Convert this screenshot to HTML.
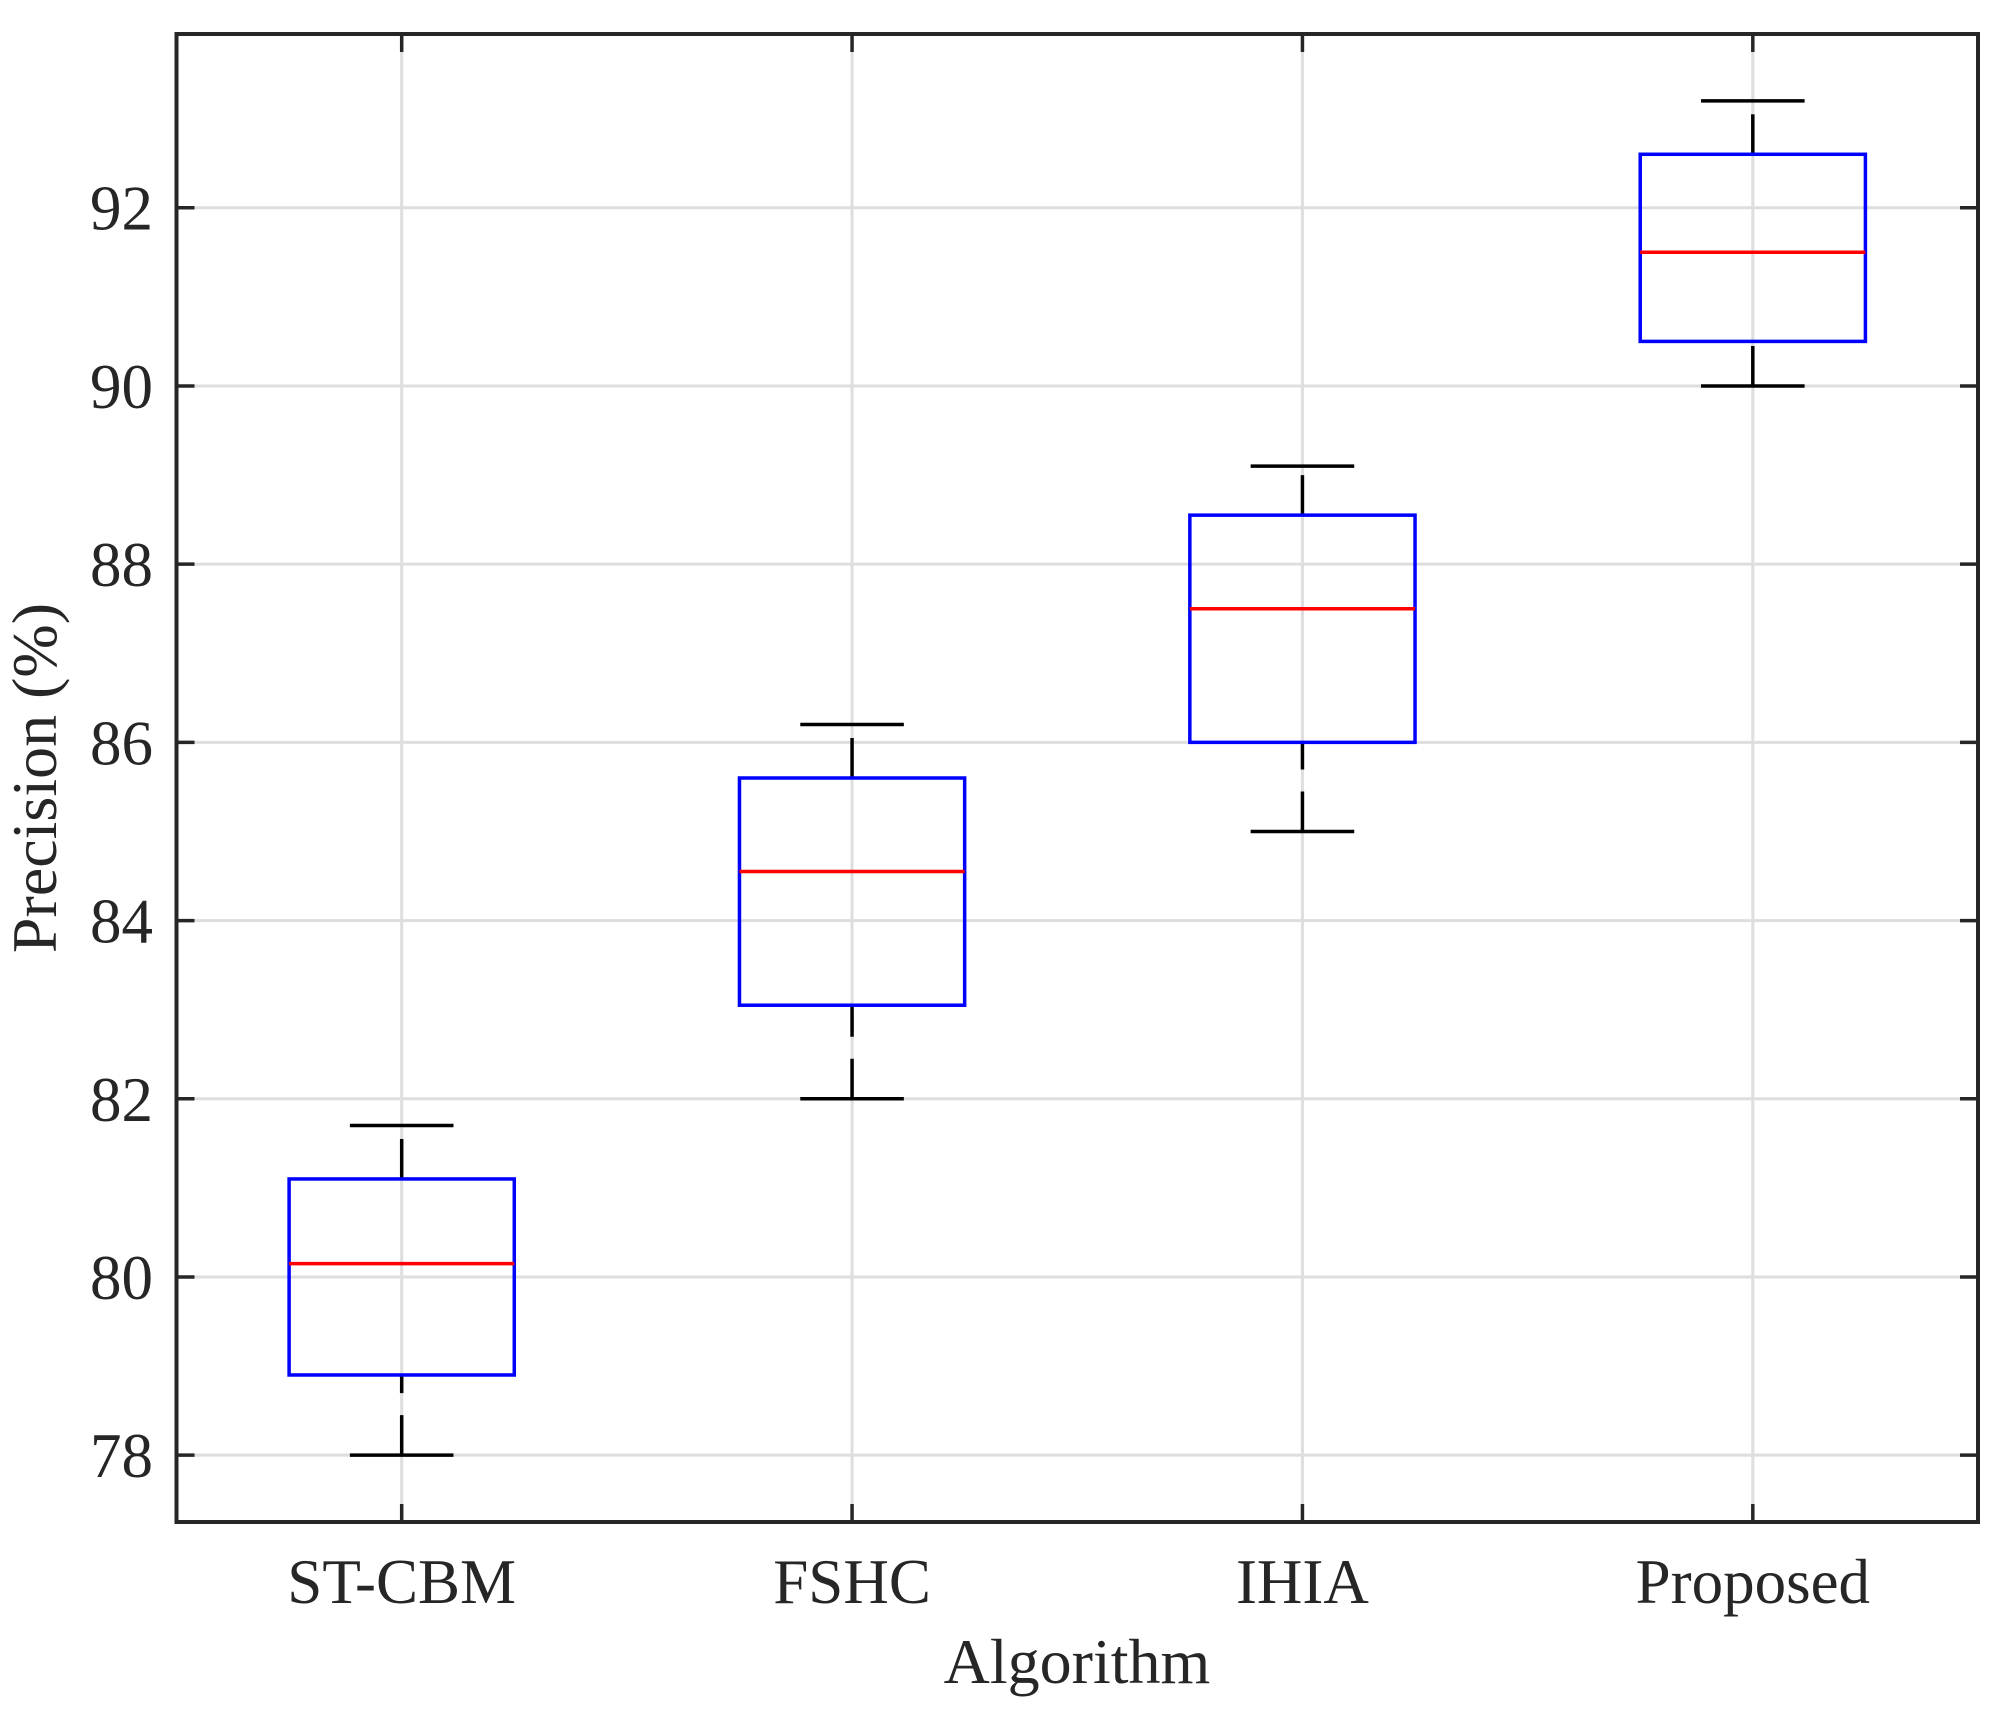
<!DOCTYPE html>
<html><head><meta charset="utf-8"><style>
html,body{margin:0;padding:0;background:#fff;}
svg{display:block;}
text{font-family:"Liberation Serif",serif;fill:#262626;}
</style></head><body>
<svg id="chart" width="2000" height="1710" viewBox="0 0 2000 1710" xmlns="http://www.w3.org/2000/svg">
<g id="grid"></g>
<g id="boxes"></g>
<g id="axes"></g>
<text transform="translate(56,778) rotate(-90)" text-anchor="middle" font-size="64">Precision (%)</text>
<text x="1077" y="1683" text-anchor="middle" font-size="64">Algorithm</text>
</svg>
<script>
const categories = ["ST-CBM","FSHC","IHIA","Proposed"];
const mins    = [78, 82, 85, 90];
const q1s     = [78.9, 83.05, 86, 90.5];
const medians = [80.15, 84.55, 87.5, 91.5];
const q3s     = [81.1, 85.6, 88.55, 92.6];
const maxs    = [81.7, 86.2, 89.1, 93.2];
const yTicks  = [78, 80, 82, 84, 86, 88, 90, 92];

const L=176.5, R=1978, T=34, B=1522;
const yMin=77.25, yMax=93.95;
const xs = i => L + (i + 0.5) * (R - L) / categories.length;
const ys = v => B - (v - yMin) / (yMax - yMin) * (B - T);
const unit = (R - L) / categories.length;
const NS="http://www.w3.org/2000/svg";
function mk(parent, tag, attrs){const e=document.createElementNS(NS,tag);for(const k in attrs)e.setAttribute(k,attrs[k]);parent.appendChild(e);return e;}
const grid=document.getElementById('grid'), boxes=document.getElementById('boxes'), axes=document.getElementById('axes');

yTicks.forEach(v=>{
  const y=ys(v);
  const g=mk(grid,'line',{x1:L,x2:R,y1:y,y2:y,stroke:'#dedede','stroke-width':3});
  
  
  const t1=mk(axes,'line',{x1:L,x2:L+18,y1:y,y2:y,stroke:'#262626','stroke-width':3.5});
  
  
  const t2=mk(axes,'line',{x1:R-18,x2:R,y1:y,y2:y,stroke:'#262626','stroke-width':3.5});
  
  
  const lb=mk(axes,'text',{x:153,y:y+22,'text-anchor':'end','font-size':63});
  lb.textContent=v;
  
  
});
categories.forEach((c,i)=>{
  const x=xs(i);
  const g=mk(grid,'line',{x1:x,x2:x,y1:T,y2:B,stroke:'#dedede','stroke-width':3});
  
  
  const t1=mk(axes,'line',{x1:x,x2:x,y1:T,y2:T+18,stroke:'#262626','stroke-width':3.5});
  
  
  const t2=mk(axes,'line',{x1:x,x2:x,y1:B-18,y2:B,stroke:'#262626','stroke-width':3.5});
  
  
  const lb=mk(axes,'text',{x:x,y:1603,'text-anchor':'middle','font-size':63});
  lb.textContent=c;
  
  

  const bw=unit*0.25, cw=unit*0.115;
  const g2=mk(boxes,'g',{});
  
  
  const wl=mk(g2,'line',{x1:x,x2:x,y1:ys(mins[i]),y2:ys(q1s[i]),stroke:'#000','stroke-width':3.5,'stroke-dasharray':'40 22'});
  
  
  const wu=mk(g2,'line',{x1:x,x2:x,y1:ys(q3s[i]),y2:ys(maxs[i]),stroke:'#000','stroke-width':3.5,'stroke-dasharray':'40 22'});
  
  
  const cl=mk(g2,'line',{x1:x-cw,x2:x+cw,y1:ys(mins[i]),y2:ys(mins[i]),stroke:'#000','stroke-width':3.5});
  
  
  const cu=mk(g2,'line',{x1:x-cw,x2:x+cw,y1:ys(maxs[i]),y2:ys(maxs[i]),stroke:'#000','stroke-width':3.5});
  
  
  const rb=mk(g2,'rect',{x:x-bw,y:ys(q3s[i]),width:2*bw,height:ys(q1s[i])-ys(q3s[i]),fill:'none',stroke:'#0000ff','stroke-width':3.5});
  
  
  const md=mk(g2,'line',{x1:x-bw,x2:x+bw,y1:ys(medians[i]),y2:ys(medians[i]),stroke:'#ff0000','stroke-width':3.5});
  
  
});
const frame=mk(axes,'rect',{x:L,y:T,width:R-L,height:B-T,fill:'none',stroke:'#262626','stroke-width':4});


</script>
</body></html>
